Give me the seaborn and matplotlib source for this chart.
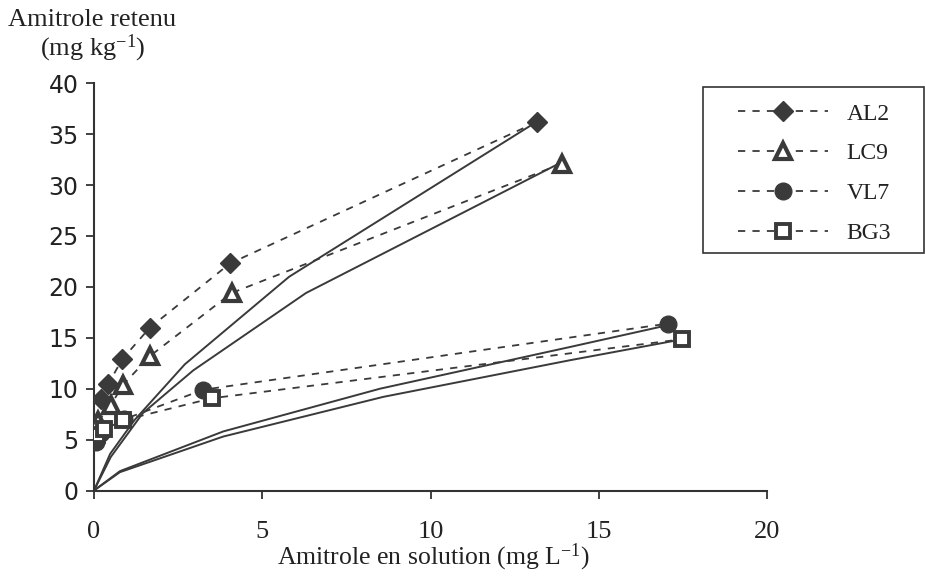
import matplotlib
matplotlib.use("Agg")
import matplotlib.pyplot as plt
import seaborn as sns
import pandas as pd
from matplotlib.patches import Rectangle

# ---- data ----
series_names = ["AL2", "LC9", "VL7", "BG3"]

al2_x = [0.2, 0.43, 0.84, 1.66, 4.04, 13.16]
al2_y = [9.0, 10.5, 12.9, 16.0, 22.3, 36.2]
lc9_x = [0.12, 0.5, 0.87, 1.66, 4.09, 13.9]
lc9_y = [6.8, 8.4, 10.4, 13.2, 19.4, 32.1]
vl7_x = [0.05, 0.2, 0.9, 3.25, 17.07]
vl7_y = [4.8, 5.6, 7.0, 9.9, 16.4]
bg3_x = [0.1, 0.3, 0.87, 3.5, 17.46]
bg3_y = [5.5, 6.0, 6.9, 9.06, 14.85]

# fitted (model) curves
al2_fit_x = [0, 0.48, 1.2, 2.7, 5.8, 13.0]
al2_fit_y = [0, 3.6, 6.9, 12.4, 21.0, 35.9]
lc9_fit_x = [0, 0.5, 1.45, 2.95, 6.3, 13.75]
lc9_fit_y = [0, 3.3, 7.6, 11.8, 19.4, 32.0]
vl7_fit_x = [0, 0.77, 3.84, 8.5, 14.15, 17.0]
vl7_fit_y = [0, 1.9, 5.8, 10.0, 14.1, 16.2]
bg3_fit_x = [0, 0.77, 3.84, 8.6, 14.15, 17.4]
bg3_fit_y = [0, 1.8, 5.3, 9.2, 12.8, 14.8]

x_ticks = [0, 5, 10, 15, 20]
y_ticks = [0, 5, 10, 15, 20, 25, 30, 35, 40]

data = {
    "AL2": (al2_x, al2_y, al2_fit_x, al2_fit_y),
    "LC9": (lc9_x, lc9_y, lc9_fit_x, lc9_fit_y),
    "VL7": (vl7_x, vl7_y, vl7_fit_x, vl7_fit_y),
    "BG3": (bg3_x, bg3_y, bg3_fit_x, bg3_fit_y),
}

# ---- styling ----
sns.set_theme(style="ticks")
plt.rcParams["font.family"] = ["Liberation Serif", "DejaVu Serif"]
plt.rcParams["mathtext.default"] = "regular"

ink = "#3a3a3a"
marker_style = {
    "AL2": dict(marker="D", markersize=10, markerfacecolor=ink, markeredgecolor=ink, markeredgewidth=1),
    "LC9": dict(marker="^", markersize=12, markerfacecolor="white", markeredgecolor=ink, markeredgewidth=3),
    "VL7": dict(marker="o", markersize=12, markerfacecolor=ink, markeredgecolor=ink, markeredgewidth=1),
    "BG3": dict(marker="s", markersize=10, markerfacecolor="white", markeredgecolor=ink, markeredgewidth=2.8),
}

fig = plt.figure(figsize=(9.25, 5.78), dpi=100)
ax = fig.add_axes([94 / 925, 1 - 490.5 / 578, (767 - 94) / 925, (490.5 - 83.3) / 578])

handles = []
for name in series_names:
    x, y, fx, fy = data[name]
    fit_df = pd.DataFrame({"x": fx, "y": fy})
    sns.lineplot(data=fit_df, x="x", y="y", ax=ax, color=ink, linewidth=1.4,
                 sort=False, estimator=None, legend=False, zorder=2)
for name in series_names:
    x, y, fx, fy = data[name]
    df = pd.DataFrame({"x": x, "y": y})
    sns.lineplot(data=df, x="x", y="y", ax=ax, color=ink, linewidth=1.3,
                 linestyle=(0, (4, 4)), sort=True, estimator=None, legend=False,
                 zorder=3, **marker_style[name])
    handles.append(ax.lines[-1])

ax.set_xlim(0, 20)
ax.set_ylim(0, 40)
ax.set_xticks(x_ticks)
ax.set_yticks(y_ticks)
ax.set_xticklabels([str(t) for t in x_ticks], fontsize=19, family="Liberation Serif", color="#222")
ax.set_yticklabels([str(t) for t in y_ticks], fontsize=17, family="DejaVu Sans", color="#222")
ax.tick_params(axis="both", direction="out", length=6, width=1.3, color="#333")
ax.tick_params(axis="y", pad=5)
ax.tick_params(axis="x", pad=16)
for s in ["top", "right"]:
    ax.spines[s].set_visible(False)
for s in ["left", "bottom"]:
    ax.spines[s].set_color("#333")
    ax.spines[s].set_linewidth(1.5)
ax.set_xlabel("")
ax.set_ylabel("")
ax.set_facecolor("white")
fig.patch.set_facecolor("white")

fig.text(8 / 925, 1 - 20 / 578, "Amitrole retenu", fontsize=19, ha="left", va="center", color="#222")
fig.text(40 / 925, 1 - 48 / 578, "(mg kg$^{-1}$)", fontsize=19, ha="left", va="center", color="#222")
fig.text(433 / 925, 1 - 557 / 578, "Amitrole en solution (mg L$^{-1}$)", fontsize=18.5,
         ha="center", va="center", color="#222")

# legend
fig.patches.append(Rectangle((703 / 925, 1 - 253 / 578), 221 / 925, 166 / 578,
                             transform=fig.transFigure, fill=False, edgecolor="#333", linewidth=1.2))
leg = ax.legend(handles, series_names, loc="upper left", bbox_to_anchor=(738 / 925, 1 - 103 / 578),
                bbox_transform=fig.transFigure, frameon=False, fontsize=17,
                handlelength=3.8, handletextpad=0.8, labelspacing=0.78, borderpad=0, borderaxespad=0)
for t in leg.get_texts():
    t.set_color("#222")

fig.savefig("out.png", dpi=100, facecolor="white")
